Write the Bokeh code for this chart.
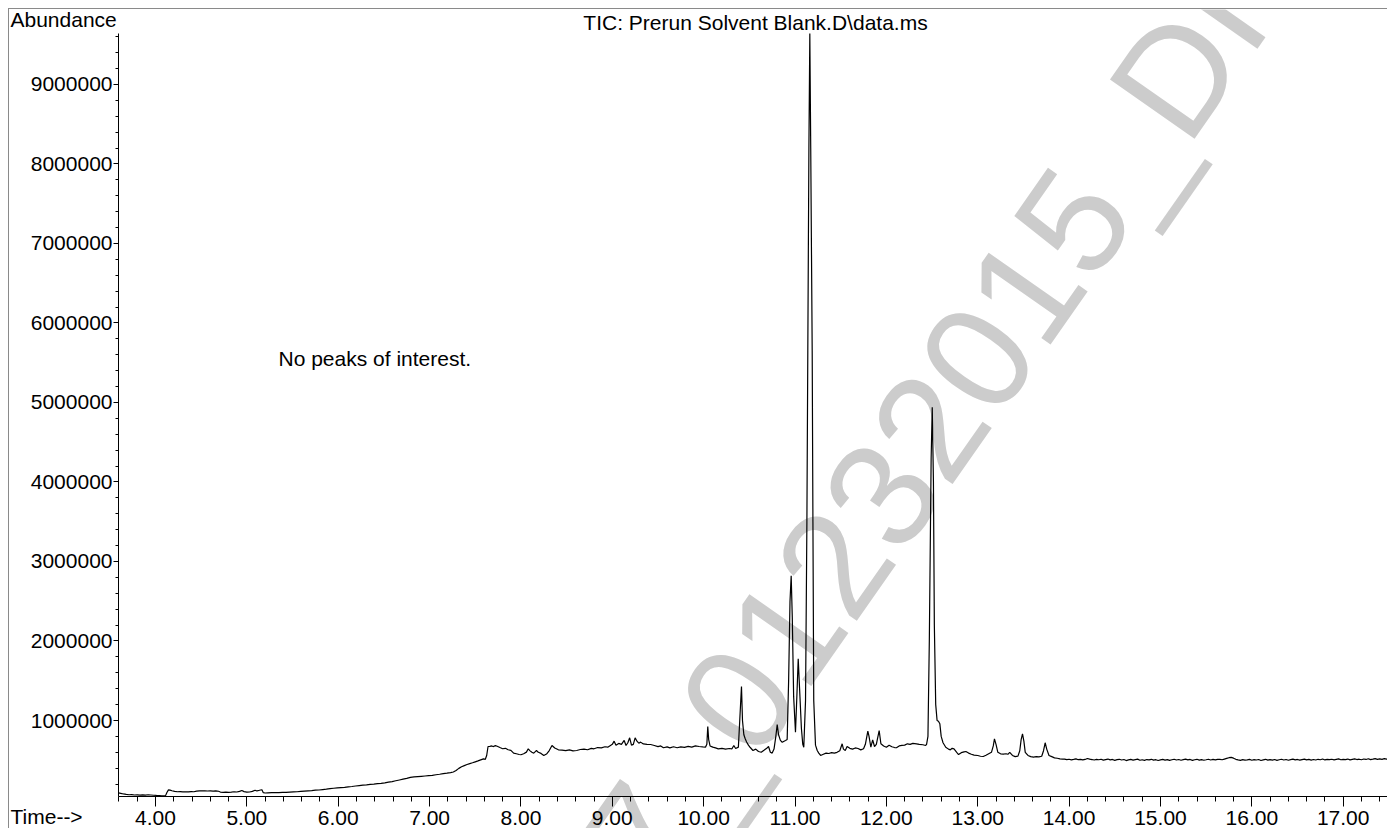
from bokeh.plotting import figure
from bokeh.models import (Range1d, SingleIntervalTicker, NumeralTickFormatter,
                          Label, ColumnDataSource)
from bokeh.embed import file_html
from bokeh.resources import INLINE

# ---------------- data (retention time in min, abundance in thousands) -------------
seg1_time = [3.595, 3.62, 3.65, 3.68, 3.71, 3.74, 3.77, 3.80, 3.83, 3.86, 3.89, 3.92,
             3.95, 3.98, 4.01, 4.04, 4.07, 4.09, 4.11, 4.125, 4.142, 4.16, 4.18, 4.21,
             4.24, 4.27, 4.30, 4.33, 4.36, 4.39, 4.42, 4.45, 4.48, 4.51, 4.54, 4.57,
             4.60, 4.63, 4.66, 4.69, 4.71, 4.74, 4.77, 4.80, 4.83, 4.86, 4.89, 4.92,
             4.945, 4.97, 5.00, 5.03, 5.06, 5.09, 5.11, 5.13, 5.15, 5.165, 5.18, 5.20]
seg1_abund_k = [90, 84, 76, 70, 66, 68, 63, 65, 61, 64, 62, 66,
                63, 60, 57, 56, 53, 52, 55, 95, 128, 124, 116, 108,
                104, 106, 102, 104, 103, 106, 104, 112, 116, 114, 115, 113,
                116, 112, 114, 110, 100, 96, 99, 97, 100, 104, 101, 108,
                120, 105, 98, 101, 108, 123, 114, 120, 126, 128, 92, 88]

seg2_time = [5.23, 5.27, 5.31, 5.35, 5.39, 5.43, 5.47, 5.51, 5.55, 5.59, 5.63, 5.67,
             5.71, 5.75, 5.79, 5.83, 5.87, 5.91, 5.95, 5.99, 6.03, 6.07, 6.11, 6.15,
             6.19, 6.23, 6.27, 6.31, 6.35, 6.39, 6.43, 6.47, 6.51, 6.55, 6.59, 6.63,
             6.67, 6.71, 6.75, 6.79, 6.83, 6.87, 6.91, 6.95, 6.99, 7.03, 7.07, 7.11,
             7.15, 7.19, 7.23, 7.26, 7.29, 7.32, 7.35, 7.38, 7.41, 7.44, 7.47, 7.50,
             7.53, 7.56, 7.59, 7.61, 7.625, 7.64]
seg2_abund_k = [90, 92, 94, 92, 95, 96, 99, 102, 104, 108, 112, 116,
                119, 124, 126, 131, 136, 142, 148, 152, 156, 160, 166, 170,
                176, 181, 186, 190, 196, 200, 206, 209, 216, 224, 232, 242,
                252, 262, 272, 285, 290, 294, 298, 302, 306, 310, 318, 324,
                332, 338, 345, 352, 372, 398, 418, 432, 446, 458, 468, 480,
                492, 505, 518, 512, 560, 673]

seg3_time = [7.66, 7.68, 7.70, 7.72, 7.74, 7.77, 7.80, 7.83, 7.86, 7.89, 7.92, 7.95,
             7.98, 8.00, 8.03, 8.06, 8.08, 8.10, 8.12, 8.14, 8.16, 8.17, 8.19, 8.22,
             8.25, 8.28, 8.31, 8.34, 8.37, 8.41, 8.45, 8.49, 8.53, 8.57, 8.61, 8.65,
             8.69, 8.73, 8.77, 8.80, 8.84, 8.88, 8.92, 8.95, 8.98, 9.00, 9.02, 9.04,
             9.07, 9.10, 9.13, 9.15, 9.17, 9.19, 9.21, 9.23, 9.25, 9.27, 9.29, 9.31,
             9.34, 9.38, 9.42, 9.46, 9.50, 9.53, 9.56, 9.60, 9.63, 9.67, 9.71, 9.75,
             9.79, 9.83, 9.87, 9.91, 9.95, 9.99]
seg3_abund_k = [675, 680, 672, 684, 676, 660, 645, 650, 632, 625, 590, 582,
                572, 569, 582, 602, 644, 618, 600, 589, 612, 623, 600, 586,
                560, 578, 622, 686, 655, 631, 628, 622, 630, 618, 623, 635,
                640, 632, 650, 644, 660, 655, 670, 664, 686, 700, 740, 690,
                712, 700, 749, 686, 720, 782, 690, 700, 782, 740, 715, 728,
                705, 700, 698, 685, 672, 680, 657, 668, 655, 670, 657, 668,
                662, 675, 665, 680, 673, 668]

seg4_time = [10.02, 10.035, 10.045, 10.055, 10.07, 10.10, 10.13, 10.16, 10.20, 10.24,
             10.28, 10.31, 10.33, 10.35, 10.38, 10.395, 10.414, 10.425, 10.44, 10.455,
             10.47, 10.49, 10.51, 10.54, 10.57, 10.60, 10.63, 10.66, 10.69, 10.71,
             10.73, 10.75, 10.77, 10.79, 10.805, 10.82, 10.84, 10.86, 10.88, 10.896,
             10.914, 10.93, 10.945, 10.958, 10.97, 10.985, 11.005, 11.02, 11.035, 11.05,
             11.07, 11.085, 11.096, 11.115, 11.13, 11.14, 11.152, 11.162, 11.172, 11.188,
             11.196, 11.205, 11.224, 11.243, 11.26, 11.28, 11.31, 11.34, 11.37, 11.40,
             11.43, 11.46, 11.49, 11.516, 11.53, 11.55, 11.57, 11.60, 11.63, 11.66,
             11.69, 11.72, 11.75, 11.77, 11.797, 11.81, 11.83, 11.85, 11.87, 11.89,
             11.921, 11.94, 11.97, 12.00, 12.03, 12.06, 12.09, 12.11, 12.14, 12.17,
             12.20, 12.23, 12.26, 12.29, 12.33, 12.36, 12.40, 12.43]
seg4_abund_k = [665, 700, 925, 760, 680, 665, 655, 644, 650, 640,
                648, 644, 686, 648, 665, 1000, 1428, 1000, 820, 770,
                730, 690, 660, 623, 640, 610, 601, 625, 650, 673,
                600, 590, 640, 800, 950, 820, 750, 727, 740, 749,
                760, 1500, 2500, 2820, 2300, 1300, 853, 1300, 1776, 1400,
                900, 700, 664, 1250, 3500, 5650, 8200, 9641, 8200, 5650,
                3500, 1250, 690, 623, 590, 560, 575, 590, 585, 595,
                590, 600, 620, 707, 640, 623, 673, 650, 640, 655,
                648, 631, 644, 700, 866, 800, 664, 757, 673, 700,
                874, 707, 680, 664, 690, 670, 660, 657, 680, 686,
                690, 707, 700, 712, 707, 700, 695, 686]

seg5_time = [12.44, 12.455, 12.47, 12.49, 12.502, 12.515, 12.525, 12.54, 12.555, 12.57,
             12.585, 12.60, 12.62, 12.65, 12.68, 12.70, 12.72, 12.74, 12.77, 12.79,
             12.82, 12.85, 12.87, 12.90, 12.93, 12.96, 13.00, 13.03, 13.06, 13.09,
             13.12, 13.15, 13.17, 13.183, 13.20, 13.22, 13.25, 13.28, 13.31, 13.33,
             13.35, 13.38, 13.41, 13.44, 13.46, 13.475, 13.49, 13.505, 13.52, 13.55,
             13.58, 13.61, 13.64, 13.67, 13.70, 13.72, 13.738, 13.755, 13.78, 13.81,
             13.84, 13.87, 13.90, 13.93]
seg5_abund_k = [700, 800, 2000, 4300, 4940, 4000, 2200, 1200, 1000, 990,
                960, 800, 720, 664, 640, 631, 650, 644, 600, 572,
                595, 605, 610, 590, 575, 565, 560, 550, 547, 562,
                581, 600, 680, 770, 700, 600, 581, 578, 582, 575,
                600, 560, 545, 552, 620, 760, 833, 740, 600, 560,
                545, 540, 545, 542, 550, 620, 720, 640, 560, 545,
                530, 525, 518, 515]

# flat tail, one scan every 0.025 min from 13.95 min
tail_start = 13.95
tail_step = 0.025
tail_abund_k = [515, 508, 513, 505, 511, 518, 507, 512, 504, 510,
                522, 514, 509, 503, 511, 506, 513, 501, 508, 515,
                504, 510, 499, 507, 512, 503, 509, 496, 505, 511,
                502, 508, 514, 500, 506, 498, 509, 504, 512, 501,
                507, 497, 505, 511, 502, 508, 499, 506, 513, 503,
                509, 500, 507, 514, 504, 510, 498, 506, 512, 502,
                508, 500, 506, 513, 503, 510, 505, 512, 510, 506,
                515, 524, 532, 536, 526, 512, 505, 499, 507, 502,
                505, 511, 500, 507, 503, 509, 497, 505, 512, 501,
                508, 502, 510, 499, 506, 513, 503, 509, 500, 507,
                514, 504, 510, 501, 508, 515, 505, 511, 502, 509,
                503, 512, 506, 516, 504, 510, 507, 513, 505, 511,
                517, 506, 512, 508, 515, 504, 511, 518, 509, 513,
                506, 516, 510, 519, 508, 514, 521, 511, 517, 512,
                520, 514, 522]
tail_time = [round(tail_start + tail_step * i, 3) for i in range(len(tail_abund_k))]

time_min = seg1_time + seg2_time + seg3_time + seg4_time + seg5_time + tail_time
abund_k = seg1_abund_k + seg2_abund_k + seg3_abund_k + seg4_abund_k + seg5_abund_k + tail_abund_k
abundance = [a * 1000 for a in abund_k]

# axis extents (what the instrument plot shows)
x_start, x_end = 3.595, 17.496
y_start, y_end = 44000, 9641500
# whole canvas (axes are drawn at fixed positions inside it)
canvas_x = (2.402, 17.496)
canvas_y = (-371000, 9943000)

title_text = "TIC: Prerun Solvent Blank.D\\data.ms"
note_text = "No peaks of interest."
watermark_text = "7_01232015_DI"

# ---------------- figure ----------------
FONT = "Liberation Sans"
FS = "21px"

p = figure(width=1379, height=820, x_range=Range1d(*canvas_x),
           y_range=Range1d(*canvas_y), output_backend="svg",
           toolbar_location=None, min_border=0, min_border_left=0,
           min_border_right=0, min_border_top=0, min_border_bottom=0)
p.margin = (8, 0, 0, 8)
p.styles = {"border-top": "1px solid #8a8a8a", "border-left": "1px solid #8a8a8a"}
p.outline_line_color = None
p.grid.visible = False
p.background_fill_color = "white"
p.border_fill_color = "white"

# watermark (under the trace)
p.add_layout(Label(x=609, y=-41, x_units="screen", y_units="screen",
                   text=watermark_text, angle=55, angle_units="deg",
                   text_font=FONT, text_font_size="150px", text_color="#cccccc",
                   text_align="left", text_baseline="alphabetic", level="underlay"))

src = ColumnDataSource(dict(t=time_min, a=abundance))
p.line("t", "a", source=src, line_color="black", line_width=1.2)

# axes
xa = p.xaxis[0]
xa.fixed_location = y_start
xa.bounds = (x_start, x_end)
xa.ticker = SingleIntervalTicker(interval=1, num_minor_ticks=5)
xa.formatter = NumeralTickFormatter(format="0.00")
xa.major_tick_out = 10
xa.major_tick_in = 0
xa.minor_tick_out = 5
xa.minor_tick_in = 0
xa.major_label_standoff = 4
ya = p.yaxis[0]
ya.fixed_location = x_start
ya.bounds = (y_start, y_end)
ya.ticker = SingleIntervalTicker(interval=1000000, num_minor_ticks=5)
ya.formatter = NumeralTickFormatter(format="0")
ya.major_tick_out = 5
ya.major_tick_in = 0
ya.minor_tick_out = 3
ya.minor_tick_in = 0
ya.major_label_standoff = 1
for ax in (xa, ya):
    ax.axis_line_color = "black"
    ax.major_tick_line_color = "black"
    ax.minor_tick_line_color = "black"
    ax.major_label_text_font = FONT
    ax.major_label_text_font_size = FS
    ax.major_label_text_color = "black"

# texts
def add_text(x, y, text, align="left"):
    p.add_layout(Label(x=x, y=y, x_units="screen", y_units="screen", text=text,
                       text_font=FONT, text_font_size=FS, text_color="black",
                       text_align=align, text_baseline="alphabetic"))

add_text(1, 810, "Abundance")
add_text(746, 807, title_text, align="center")
add_text(1, 13, "Time-->")
add_text(269, 471, note_text)

open("out.html", "w").write(file_html(p, INLINE))
